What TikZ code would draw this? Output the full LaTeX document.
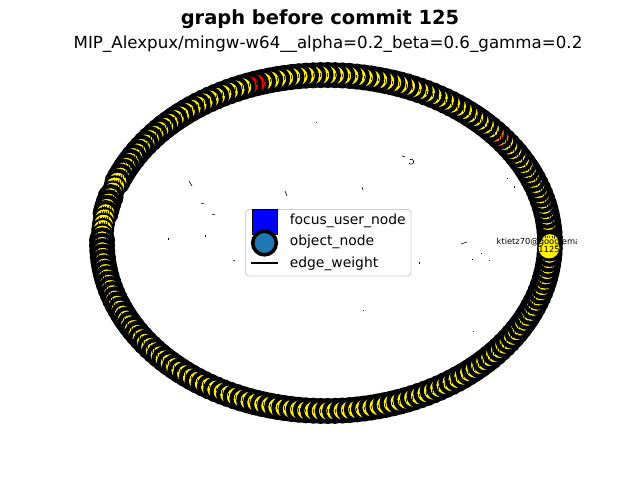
\documentclass[tikz,border=0pt]{standalone}
\usepackage{fontspec}
\setmainfont{DejaVu Sans}
\definecolor{mplblue}{RGB}{31,119,180}
\tikzset{
  ringnode/.style={circle,draw=black,line width=2.9bp,fill=yellow,minimum size=15.8bp,inner sep=0pt},
  thinnode/.style={ringnode,line width=1.5bp,minimum size=15bp},
  texture/.style={black,line width=2.6bp,opacity=0.75,dash pattern=on 0.7bp off 0.9bp},
  legendtext/.style={anchor=west,inner sep=0pt,font=\fontsize{10bp}{12bp}\selectfont},
  speck/.style={line width=0.45bp,black}
}
\begin{document}
\begin{tikzpicture}[x=0.72bp,y=-0.72bp]
\useasboundingbox (0,0) rectangle (640,480);
\fill[white] (0,0) rectangle (640,480);
\node[font=\fontsize{14bp}{16bp}\selectfont\bfseries] (title) at (320,19) {graph before commit 125};
\node[font=\fontsize{12bp}{14bp}\selectfont] (subtitle) at (328,44) {MIP\_Alexpux/mingw-w64\_\_alpha=0.2\_beta=0.6\_gamma=0.2};
% ring of nodes, drawn counter-clockwise so each covers the one before
\foreach \i in {1,...,193}{
  \pgfmathsetmacro{\a}{\i*1.86528}
  \def\col{yellow}
  \def\sty{ringnode}
  \ifnum\i=21 \def\col{orange}\fi
  \ifnum\i=22 \def\col{orange}\fi
  \ifnum\i=58 \def\col{red}\fi
  \ifnum\i=59 \def\col{red}\fi
  \ifnum\i>85 \ifnum\i<88 \def\sty{thinnode}\fi\fi
  \ifnum\i>91 \ifnum\i<96 \def\sty{thinnode}\fi\fi
  \node[\sty,fill=\col] (r\i) at ({326+224*cos(\a)},{243-168*sin(\a)}) {};
}
% the tiny node labels show as dark marks along the middle of the ring
\foreach \i in {1,...,193}{
  \pgfmathsetmacro{\a}{\i*1.86528}
  \coordinate (c\i) at ({326+224*cos(\a)},{243-168*sin(\a)});
  \draw[texture] ([xshift=-3.6bp]c\i) -- ([xshift=3.6bp]c\i);
}
\node[circle,fill=yellow,minimum size=15bp,inner sep=0pt] (focus) at (549,248) {};
\begin{scope}
\clip (490,230) rectangle (576,256);
\node[font=\fontsize{6bp}{7bp}\selectfont,inner sep=0pt] (flabel) at (551,242) {ktietz70@googlemail.com};
\end{scope}
\node[font=\fontsize{6bp}{7bp}\selectfont,inner sep=0pt] (fnum) at (549,249) {1125};
% interior specks
\foreach \x/\y/\u/\v in {316/123/1/-1,189/181/3/5,212/214/3/1,201/203/3/1,285/191/2/5,362/187/1/3,168/238/0/2,205/235/0/2,419/262/0/2,363/311/1/-1,233/260/2/1,461/244/6/-2,402/156/3/1,472/259/1/0,489/260/0/1,481/253/1/0,473/331/0/1,514/186/0/2,507/178/0/1}{
  \draw[speck] (\x,\y) -- ++(\u,\v);
}
\draw[speck] (409,163) arc[start angle=150,end angle=-120,radius=2.5];
% legend
\draw[draw=black!18,fill=white,rounded corners=2.5bp,line width=0.7bp] (245.5,209.5) rectangle (411,276);
\node[rectangle,draw=black,fill=blue,line width=0.8bp,minimum width=17.5bp,minimum height=18bp,inner sep=0pt] (lsq) at (265,222) {};
\node[circle,draw=black,fill=mplblue,line width=2.6bp,minimum size=17bp,inner sep=0pt] (lci) at (264.5,243) {};
\coordinate (la) at (251,263);
\coordinate (lb) at (278,263);
\draw[black,line width=0.75bp] (la) -- (lb);
\node[legendtext] (t1) at (289.5,220.5) {focus\_user\_node};
\node[legendtext] (t2) at (289.5,242) {object\_node};
\node[legendtext] (t3) at (289.5,263.5) {edge\_weight};
\end{tikzpicture}
\end{document}
